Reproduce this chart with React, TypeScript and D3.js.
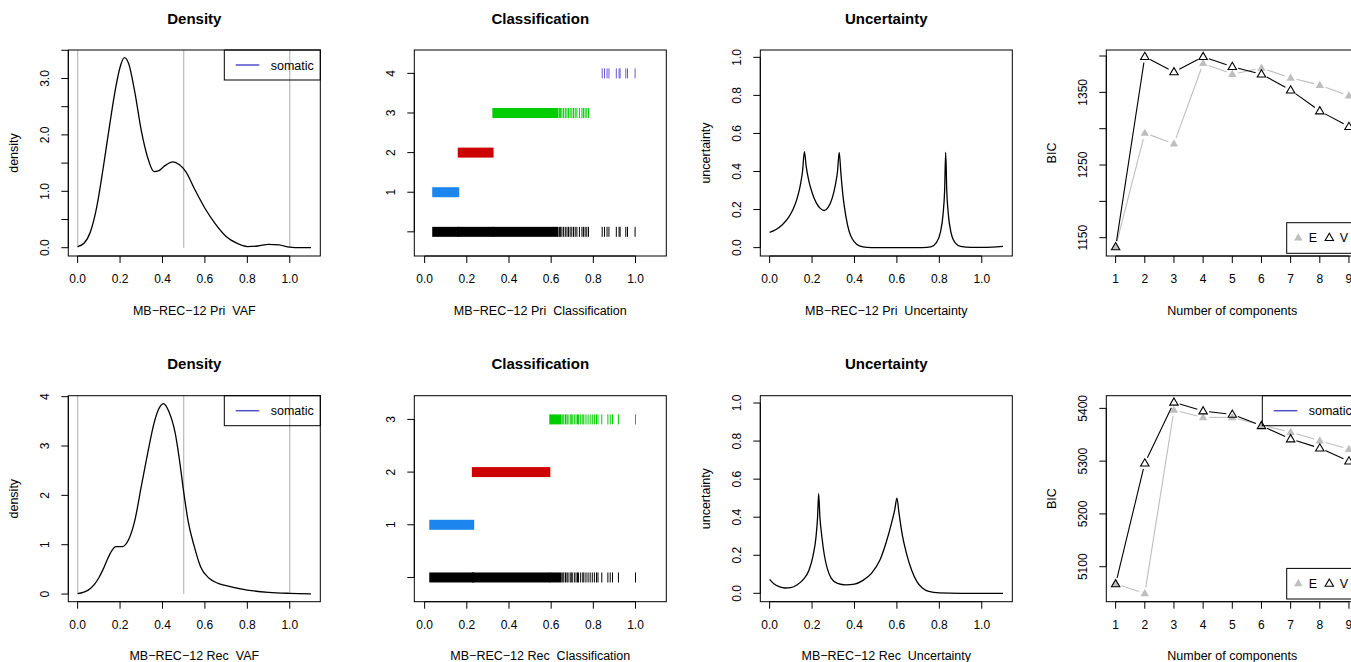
import React from 'react';
import * as d3 from 'd3';

const FONT = "'Liberation Sans', Arial, Helvetica, sans-serif";
const W = 1351, H = 662;
const COL0 = 68.3, COLW = 346, BOXW = 252, ROW0 = 50, ROWH = 345.7, BOXH = 206;

// ---------- DATA ----------
const sampleNames = ['MB\u2212REC\u221212 Pri', 'MB\u2212REC\u221212 Rec'];
const legendLabel = 'somatic';
const vafRefLines = [0, 0.5, 1.0];

const densityPri: [number, number][] = [
  [0, 0.02], [0.03, 0.08], [0.06, 0.28], [0.09, 0.72], [0.12, 1.4], [0.15, 2.15], [0.18, 2.85],
  [0.2, 3.2], [0.22, 3.37], [0.24, 3.27], [0.27, 2.75], [0.3, 2.08], [0.33, 1.6], [0.36, 1.35],
  [0.38, 1.36], [0.41, 1.45], [0.45, 1.52], [0.48, 1.47], [0.51, 1.35], [0.55, 1.05], [0.6, 0.7],
  [0.65, 0.42], [0.7, 0.2], [0.75, 0.08], [0.8, 0.02], [0.85, 0.03], [0.9, 0.06], [0.95, 0.05],
  [1.0, 0.01], [1.05, 0.0], [1.1, 0.0],
];
const densityRec: [number, number][] = [
  [0, 0.01], [0.05, 0.08], [0.08, 0.2], [0.1, 0.33], [0.12, 0.5], [0.14, 0.7], [0.16, 0.87],
  [0.18, 0.96], [0.21, 0.96], [0.24, 1.1], [0.27, 1.5], [0.3, 2.18], [0.33, 2.85], [0.36, 3.46],
  [0.38, 3.73], [0.405, 3.86], [0.43, 3.7], [0.46, 3.26], [0.48, 2.72], [0.5, 2.07], [0.52, 1.5],
  [0.55, 0.96], [0.58, 0.55], [0.62, 0.32], [0.66, 0.22], [0.7, 0.17], [0.8, 0.08], [0.9, 0.035],
  [1.0, 0.015], [1.1, 0.005],
];

const classColors = ['#1C86EE', '#CD0000', '#00CD00', '#6A5ACD'];
// dense intervals per class [from, to] and isolated tick values
const classPriDense: [number, number][][] = [
  [[0.036, 0.164]], [[0.157, 0.327]], [[0.321, 0.635]], [],
];
const classPriTicks: number[][] = [
  [], [],
  [0.64, 0.645, 0.651, 0.659, 0.667, 0.675, 0.682, 0.69, 0.698, 0.706, 0.714, 0.722, 0.734, 0.746, 0.753, 0.761, 0.769, 0.777],
  [0.842, 0.853, 0.865, 0.874, 0.909, 0.922, 0.927, 0.954, 0.962, 0.998],
];
const classRecDense: [number, number][][] = [
  [[0.022, 0.235]], [[0.224, 0.596]], [[0.591, 0.65]],
];
const classRecTicks: number[][] = [
  [], [],
  [0.655, 0.66, 0.668, 0.675, 0.68, 0.69, 0.695, 0.7, 0.71, 0.718, 0.725, 0.73, 0.74, 0.75, 0.755, 0.765, 0.775, 0.785, 0.795, 0.805, 0.815, 0.822, 0.84, 0.869, 0.88, 0.891, 0.919, 1.0],
];

const uncertPri: [number, number][] = [
  [0, 0.08], [0.03, 0.095], [0.06, 0.12], [0.09, 0.16], [0.11, 0.2], [0.13, 0.26], [0.145, 0.33],
  [0.155, 0.4], [0.164, 0.505], [0.172, 0.43], [0.185, 0.35], [0.2, 0.29], [0.22, 0.235],
  [0.24, 0.205], [0.257, 0.195], [0.275, 0.21], [0.295, 0.26], [0.31, 0.33], [0.32, 0.4],
  [0.328, 0.5], [0.336, 0.39], [0.345, 0.28], [0.36, 0.16], [0.375, 0.085], [0.39, 0.045],
  [0.41, 0.018], [0.44, 0.004], [0.48, 0.0], [0.6, 0], [0.72, 0], [0.76, 0.004], [0.785, 0.025],
  [0.805, 0.08], [0.818, 0.18], [0.825, 0.3], [0.83, 0.5], [0.835, 0.3], [0.842, 0.18],
  [0.855, 0.08], [0.875, 0.025], [0.9, 0.007], [0.95, 0.001], [1.0, 0.001], [1.05, 0.003], [1.1, 0.007],
];
const uncertRec: [number, number][] = [
  [0, 0.073], [0.02, 0.05], [0.045, 0.035], [0.072, 0.028], [0.1, 0.03], [0.13, 0.045], [0.16, 0.075],
  [0.185, 0.12], [0.205, 0.2], [0.218, 0.29], [0.226, 0.4], [0.231, 0.524], [0.237, 0.4],
  [0.246, 0.3], [0.258, 0.2], [0.272, 0.13], [0.29, 0.08], [0.32, 0.052], [0.36, 0.044],
  [0.4, 0.048], [0.44, 0.068], [0.48, 0.105], [0.52, 0.175], [0.55, 0.27], [0.575, 0.37],
  [0.59, 0.44], [0.6, 0.5], [0.61, 0.42], [0.625, 0.31], [0.645, 0.21], [0.67, 0.12],
  [0.695, 0.06], [0.72, 0.028], [0.75, 0.01], [0.8, 0.002], [0.9, 0], [1.0, 0], [1.1, 0],
];

const bicK = [1, 2, 3, 4, 5, 6, 7, 8, 9];
const bicPriE = [1137.2, 1294, 1279.3, 1390, 1375, 1383.5, 1370, 1360, 1345.4];
const bicPriV = [1137.2, 1399.1, 1378, 1399, 1385.3, 1375, 1353, 1324.3, 1302.8];
const bicRecE = [5067.2, 5049.5, 5396.8, 5382.9, 5382.9, 5368.3, 5355, 5338.6, 5322.8];
const bicRecV = [5067.2, 5296.2, 5411.4, 5394.9, 5388.6, 5367, 5341.9, 5324.6, 5300];
const bicModels = ['E', 'V'];

const vafTicks = [0, 0.2, 0.4, 0.6, 0.8, 1.0];
const densPriYTicks = [0, 0.5, 1, 1.5, 2, 2.5, 3, 3.5];
const densPriYLabels = ['0.0', '', '1.0', '', '2.0', '', '3.0', ''];
const densRecYTicks = [0, 1, 2, 3, 4];
const densRecYLabels = ['0', '1', '2', '3', '4'];
const uncYTicks = [0, 0.2, 0.4, 0.6, 0.8, 1.0];
const bicPriYTicks = [1150, 1200, 1250, 1300, 1350, 1400];
const bicPriYLabels = ['1150', '', '1250', '', '1350', ''];
const bicRecYTicks = [5100, 5200, 5300, 5400];

// ---------- LAYOUT HELPERS ----------
type Box = { left: number; top: number; right: number; bottom: number };
const boxAt = (c: number, r: number): Box => {
  const left = COL0 + c * COLW;
  const top = ROW0 + r * ROWH;
  return { left, top, right: left + BOXW, bottom: top + BOXH };
};

const GRAY = '#bebebe';

function Frame(props: {
  b: Box; xs: any; ys: any; xTicks: number[]; xLabels: string[]; yTicks: number[]; yLabels: string[];
  title?: string; xlab: string; ylab: string;
}) {
  const { b, xs, ys, xTicks, xLabels, yTicks, yLabels, title, xlab, ylab } = props;
  return (
    <g fontFamily={FONT} fill="#000">
      <rect x={b.left} y={b.top} width={BOXW} height={BOXH} fill="none" stroke="#000" strokeWidth={1} />
      <line x1={xs(xTicks[0])} x2={xs(xTicks[xTicks.length - 1])} y1={b.bottom} y2={b.bottom} stroke="#000" />
      {xTicks.map((t, i) => (
        <g key={'x' + i}>
          <line x1={xs(t)} x2={xs(t)} y1={b.bottom} y2={b.bottom + 7} stroke="#000" />
          <text x={xs(t)} y={b.bottom + 27} fontSize={12} textAnchor="middle">{xLabels[i]}</text>
        </g>
      ))}
      <line y1={ys(yTicks[0])} y2={ys(yTicks[yTicks.length - 1])} x1={b.left} x2={b.left} stroke="#000" />
      {yTicks.map((t, i) => (
        <g key={'y' + i}>
          <line y1={ys(t)} y2={ys(t)} x1={b.left} x2={b.left - 7} stroke="#000" />
          {yLabels[i] ? (
            <text transform={`translate(${b.left - 19},${ys(t)}) rotate(-90)`} fontSize={12} textAnchor="middle">{yLabels[i]}</text>
          ) : null}
        </g>
      ))}
      {title ? (
        <text x={(b.left + b.right) / 2} y={b.top - 26.5} fontSize={15} fontWeight="bold" textAnchor="middle">{title}</text>
      ) : null}
      <text x={(b.left + b.right) / 2} y={b.bottom + 58.5} fontSize={12.5} textAnchor="middle" style={{ whiteSpace: 'pre' }}>{xlab}</text>
      <text transform={`translate(${b.left - 50},${(b.top + b.bottom) / 2}) rotate(-90)`} fontSize={12.5} textAnchor="middle">{ylab}</text>
    </g>
  );
}

function SomaticLegend({ b }: { b: Box }) {
  return (
    <g fontFamily={FONT}>
      <rect x={b.right - 96} y={b.top} width={96} height={30} fill="none" stroke="#000" />
      <line x1={b.right - 84.6} x2={b.right - 61} y1={b.top + 15} y2={b.top + 15} stroke="#5050c8" strokeWidth={1.5} />
      <text x={b.right - 49.6} y={b.top + 19.5} fontSize={12.5}>{legendLabel}</text>
    </g>
  );
}

const tri = (cx: number, cy: number) => `M${cx},${cy - 4.4}L${cx + 4.2},${cy + 2.8}L${cx - 4.2},${cy + 2.8}Z`;

function DensityPanel({ row, data }: { row: number; data: [number, number][] }) {
  const b = boxAt(0, row);
  const xs = d3.scaleLinear().domain([-0.044, 1.144]).range([b.left, b.right]);
  const yDom = row === 0 ? [-0.147, 3.505] : [-0.155, 4.02];
  const ys = d3.scaleLinear().domain(yDom).range([b.bottom, b.top]);
  const line = d3.line<[number, number]>().x(d => xs(d[0])).y(d => ys(d[1])).curve(d3.curveMonotoneX);
  return (
    <g>
      {vafRefLines.map((v, i) => (
        <line key={i} x1={xs(v)} x2={xs(v)} y1={ys(0)} y2={b.top} stroke={GRAY} strokeWidth={1.3} />
      ))}
      <path d={line(data) || ''} fill="none" stroke="#000" strokeWidth={1.3} />
      <Frame b={b} xs={xs} ys={ys} xTicks={vafTicks} xLabels={vafTicks.map(d3.format('.1f'))}
        yTicks={row === 0 ? densPriYTicks : densRecYTicks} yLabels={row === 0 ? densPriYLabels : densRecYLabels}
        title="Density" xlab={`${sampleNames[row]}  VAF`} ylab="density" />
      <SomaticLegend b={b} />
    </g>
  );
}

function ClassPanel({ row, dense, ticks }: { row: number; dense: [number, number][][]; ticks: number[][] }) {
  const b = boxAt(1, row);
  const G = dense.length;
  const xs = d3.scaleLinear().domain([-0.049, 1.146]).range([b.left, b.right]);
  const yDom = row === 0 ? [-0.61, 4.59] : [-0.46, 3.45];
  const ys = d3.scaleLinear().domain(yDom).range([b.bottom, b.top]);
  const yT = d3.range(0, G + 1);
  const half = 5;
  const drawRow = (yv: number, ds: [number, number][], ts: number[], color: string, key: string) => (
    <g key={key}>
      {ds.map((r, i) => (
        <rect key={i} x={xs(r[0])} width={xs(r[1]) - xs(r[0])} y={ys(yv) - half} height={half * 2} fill={color} />
      ))}
      {ts.map((t, i) => (
        <line key={'t' + i} x1={xs(t)} x2={xs(t)} y1={ys(yv) - half} y2={ys(yv) + half} stroke={color} strokeWidth={1} />
      ))}
    </g>
  );
  return (
    <g>
      {dense.map((ds, k) => drawRow(k + 1, ds, ticks[k], classColors[k], 'c' + k))}
      {dense.map((ds, k) => drawRow(0, ds, ticks[k], '#000', 'b' + k))}
      <Frame b={b} xs={xs} ys={ys} xTicks={vafTicks} xLabels={vafTicks.map(d3.format('.1f'))}
        yTicks={yT} yLabels={yT.map(v => (v === 0 ? '' : String(v)))}
        title="Classification" xlab={`${sampleNames[row]}  Classification`} ylab="" />
    </g>
  );
}

function UncPanel({ row, data }: { row: number; data: [number, number][] }) {
  const b = boxAt(2, row);
  const xs = d3.scaleLinear().domain([-0.044, 1.144]).range([b.left, b.right]);
  const ys = d3.scaleLinear().domain([-0.044, 1.0385]).range([b.bottom, b.top]);
  const line = d3.line<[number, number]>().x(d => xs(d[0])).y(d => ys(d[1])).curve(d3.curveMonotoneX);
  return (
    <g>
      <path d={line(data) || ''} fill="none" stroke="#000" strokeWidth={1.3} />
      <Frame b={b} xs={xs} ys={ys} xTicks={vafTicks} xLabels={vafTicks.map(d3.format('.1f'))}
        yTicks={uncYTicks} yLabels={uncYTicks.map(d3.format('.1f'))}
        title="Uncertainty" xlab={`${sampleNames[row]}  Uncertainty`} ylab="uncertainty" />
    </g>
  );
}

function BicPanel({ row, e, v }: { row: number; e: number[]; v: number[] }) {
  const b = boxAt(3, row);
  const xs = d3.scaleLinear().domain([0.68, 9.32]).range([b.left, b.right]);
  const yDom = row === 0 ? [1124.8, 1408.3] : [5033.7, 5424];
  const ys = d3.scaleLinear().domain(yDom).range([b.bottom, b.top]);
  const gap = 6;
  const segs = (vals: number[], color: string, key: string) =>
    bicK.slice(1).map((k, i) => {
      const x1 = xs(bicK[i]), y1 = ys(vals[i]), x2 = xs(k), y2 = ys(vals[i + 1]);
      const len = Math.hypot(x2 - x1, y2 - y1);
      if (len < 2 * gap) return null;
      const ux = (x2 - x1) / len, uy = (y2 - y1) / len;
      return <line key={key + i} x1={x1 + ux * gap} y1={y1 + uy * gap} x2={x2 - ux * gap} y2={y2 - uy * gap} stroke={color} strokeWidth={1.1} />;
    });
  const yT = row === 0 ? bicPriYTicks : bicRecYTicks;
  const yL = row === 0 ? bicPriYLabels : bicRecYTicks.map(String);
  const lx = b.right - 71.6, ly = b.bottom - 33.3;
  return (
    <g>
      {segs(e, GRAY, 'e')}
      {segs(v, '#000', 'v')}
      {bicK.map((k, i) => <path key={'pe' + i} d={tri(xs(k), ys(e[i]))} fill={GRAY} stroke="none" />)}
      {bicK.map((k, i) => <path key={'pv' + i} d={tri(xs(k), ys(v[i]))} fill="none" stroke="#000" strokeWidth={1.1} />)}
      <Frame b={b} xs={xs} ys={ys} xTicks={bicK} xLabels={bicK.map(String)} yTicks={yT} yLabels={yL}
        xlab="Number of components" ylab="BIC" />
      <g fontFamily={FONT}>
        <rect x={lx} y={ly} width={68.6} height={30.6} fill="none" stroke="#000" />
        <path d={tri(lx + 11.6, ly + 15)} fill={GRAY} />
        <text x={lx + 22} y={ly + 19.5} fontSize={12.5}>{bicModels[0]}</text>
        <path d={tri(lx + 42.6, ly + 15)} fill="none" stroke="#000" strokeWidth={1.1} />
        <text x={lx + 53} y={ly + 19.5} fontSize={12.5}>{bicModels[1]}</text>
      </g>
      {row === 1 ? <SomaticLegend b={b} /> : null}
    </g>
  );
}

export default function App() {
  return (
    <svg width={W} height={H} viewBox={`0 0 ${W} ${H}`}
      style={{ position: 'absolute', left: 0, top: 0, background: '#fff', overflow: 'hidden' }}>
      <rect x={0} y={0} width={W} height={H} fill="#fff" />
      <DensityPanel row={0} data={densityPri} />
      <DensityPanel row={1} data={densityRec} />
      <ClassPanel row={0} dense={classPriDense} ticks={classPriTicks} />
      <ClassPanel row={1} dense={classRecDense} ticks={classRecTicks} />
      <UncPanel row={0} data={uncertPri} />
      <UncPanel row={1} data={uncertRec} />
      <BicPanel row={0} e={bicPriE} v={bicPriV} />
      <BicPanel row={1} e={bicRecE} v={bicRecV} />
    </svg>
  );
}
